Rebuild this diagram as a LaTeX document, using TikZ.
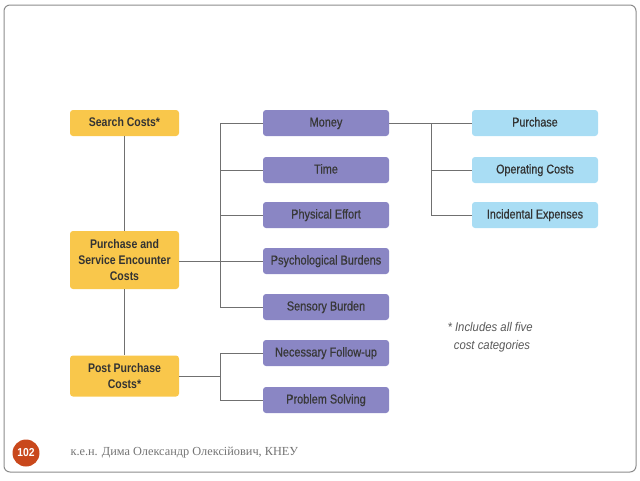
\documentclass[tikz,border=0pt]{standalone}
\usepackage{fontspec}
\setmainfont{Liberation Serif}
\newfontfamily\boxfont[FakeStretch=0.84]{Liberation Sans}
\newfontfamily\medfont[FakeStretch=0.84,FakeBold=0.6]{Liberation Sans}
\newfontfamily\notefont[FakeStretch=0.9]{Liberation Sans}
\definecolor{yel}{HTML}{F9C74B}
\definecolor{pur}{HTML}{8A86C4}
\definecolor{blu}{HTML}{A9DDF4}
\definecolor{txt}{HTML}{333333}
\definecolor{lin}{HTML}{707070}
\definecolor{org}{HTML}{C9481C}
\tikzset{
  base/.style={rounded corners=3pt, minimum height=26pt, align=center, text=txt, inner sep=2pt},
  one/.style={text height=9.5pt, text depth=2.5pt},
  ybox/.style={base, fill=yel, minimum width=109pt, font=\boxfont\fontsize{12.5}{16}\selectfont\bfseries},
  pbox/.style={base, one, fill=pur, minimum width=126pt, font=\medfont\fontsize{13}{16}\selectfont, text=black!78},
  bbox/.style={base, one, fill=blu, minimum width=126pt, font=\medfont\fontsize{12.8}{16}\selectfont},
  conn/.style={draw=lin, line width=0.9pt}
}
\begin{document}
\begin{tikzpicture}[x=1pt,y=-1pt]
\useasboundingbox (0,0) rectangle (640,480);
\draw[draw=black!45, line width=1pt, rounded corners=6pt] (4,5) rectangle (636,472);
% yellow
\node[ybox, one] (sc) at (124.5,123) {Search Costs*};
\node[ybox, minimum height=58pt] (ps) at (124.5,260) {Purchase and\\Service Encounter\\Costs};
\node[ybox, minimum height=41pt] (pp) at (124.5,376) {Post Purchase\\Costs*};
% purple
\node[pbox] (mo) at (326,123) {Money};
\node[pbox] (ti) at (326,170) {Time};
\node[pbox] (pe) at (326,215) {Physical Effort};
\node[pbox] (pb) at (326,261) {Psychological Burdens};
\node[pbox] (sb) at (326,307) {Sensory Burden};
\node[pbox] (nf) at (326,353) {Necessary Follow-up};
\node[pbox] (pr) at (326,400) {Problem Solving};
% blue
\node[bbox] (pu) at (535,123) {Purchase};
\node[bbox] (oc) at (535,170) {Operating Costs};
\node[bbox] (ie) at (535,215) {Incidental Expenses};
% coordinates
\coordinate (t1) at (220,123);
\coordinate (t2) at (220,307);
\coordinate (t3) at (220,353);
\coordinate (t4) at (220,400);
\coordinate (u1) at (431,123);
\coordinate (u2) at (431,215);
% connectors
\draw[conn] (sc) -- (ps);
\draw[conn] (ps) -- (pp);
\draw[conn] (ps.east |- pb) -- (pb.west);
\draw[conn] (t1) -- (t2);
\draw[conn] (t1) -- (mo.west);
\draw[conn] (t1 |- ti) -- (ti.west);
\draw[conn] (t1 |- pe) -- (pe.west);
\draw[conn] (t2) -- (sb.west);
\draw[conn] (pp.east) -- (t1 |- pp.east);
\draw[conn] (t3) -- (t4);
\draw[conn] (t3) -- (nf.west);
\draw[conn] (t4) -- (pr.west);
\draw[conn] (mo.east) -- (pu.west);
\draw[conn] (u1) -- (u2);
\draw[conn] (u1 |- oc) -- (oc.west);
\draw[conn] (u2) -- (ie.west);
% note
\node[font=\notefont\itshape\fontsize{12.6}{18}\selectfont, text=black!65, align=left, anchor=west] (note) at (444,337) {* Includes all five\\\ \ cost categories};
% footer
\node[circle, fill=org, minimum size=27pt, inner sep=0pt, text=white, font=\notefont\bfseries\fontsize{11.5}{12}\selectfont] (pg) at (26,453) {102};
\node[anchor=west, text=black!55, font=\fontsize{12.3}{14}\selectfont] (ft) at (67,453) {к.е.н. Дима Олександр Олексійович, КНЕУ};
\end{tikzpicture}
\end{document}
